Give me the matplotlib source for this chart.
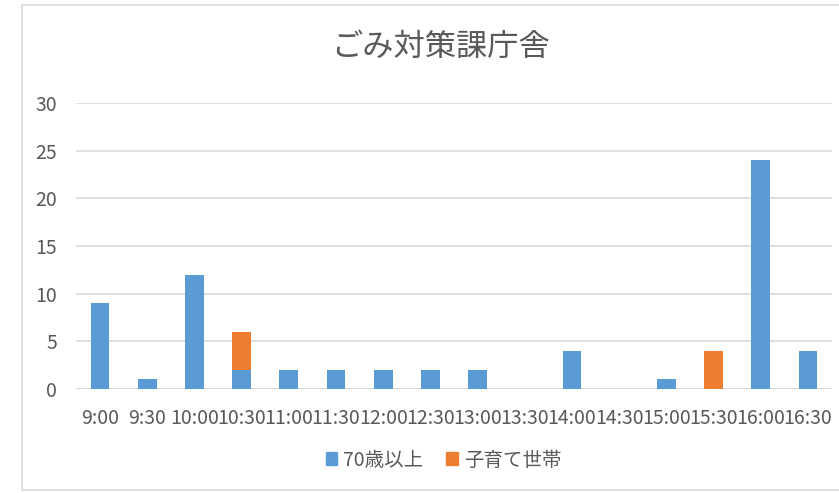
import matplotlib.pyplot as plt
from matplotlib.patches import Patch, Rectangle
import numpy as np

plt.rcParams['font.family'] = ['Noto Sans CJK JP', 'DejaVu Sans']

# 時間帯ごとの来庁者数
times = ['9:00', '9:30', '10:00', '10:30', '11:00', '11:30', '12:00', '12:30',
         '13:00', '13:30', '14:00', '14:30', '15:00', '15:30', '16:00', '16:30']
elderly = [9, 1, 12, 2, 2, 2, 2, 2, 2, 0, 4, 0, 1, 0, 24, 4]
childcare = [0, 0, 0, 4, 0, 0, 0, 0, 0, 0, 0, 0, 0, 4, 0, 0]
label_elderly = '70歳以上'
label_child = '子育て世帯'

blue = '#5B9BD5'
orange = '#ED7D31'
textc = '#595959'
gridc = '#D9D9D9'

W, H = 839, 493
fig = plt.figure(figsize=(W / 100, H / 100), dpi=100)

# グラフエリアの枠
fig.patches.append(Rectangle((22 / W, 1 - 490 / H), 1.0, (490 - 5) / H,
                             transform=fig.transFigure, fill=False,
                             edgecolor=gridc, linewidth=1.2))

ax = fig.add_axes([76.4 / W, 1 - 389 / H, 755.2 / W, 286 / H])
x = np.arange(len(times))
ax.bar(x, elderly, width=0.4, color=blue, zorder=3)
ax.bar(x, childcare, width=0.4, bottom=elderly, color=orange, zorder=3)

ax.set_xlim(-0.5, len(times) - 0.5)
ax.set_ylim(0, 30)
ax.set_yticks(range(0, 31, 5))
ax.set_xticks(x)
ax.set_xticklabels(times)
ax.grid(axis='y', color=gridc, linewidth=1.2, zorder=0)
for s in ax.spines.values():
    s.set_visible(False)
ax.tick_params(axis='both', length=0, colors=textc, labelsize=14)
ax.tick_params(axis='x', pad=14)
ax.tick_params(axis='y', pad=14)
ax.axhline(0, color=gridc, linewidth=1.2, zorder=1)

fig.text(440.5 / W, 1 - 47 / H, 'ごみ対策課庁舎', ha='center', va='center',
         fontsize=22.5, color=textc)

handles = [Patch(color=blue, label=label_elderly),
           Patch(color=orange, label=label_child)]
fig.legend(handles=handles, loc='center', bbox_to_anchor=(443.5 / W, 1 - 460 / H),
           ncol=2, frameon=False, fontsize=14, labelcolor=textc,
           handlelength=0.6, handleheight=0.6, handletextpad=0.3, columnspacing=1.2)

fig.savefig('out.png', dpi=100)
